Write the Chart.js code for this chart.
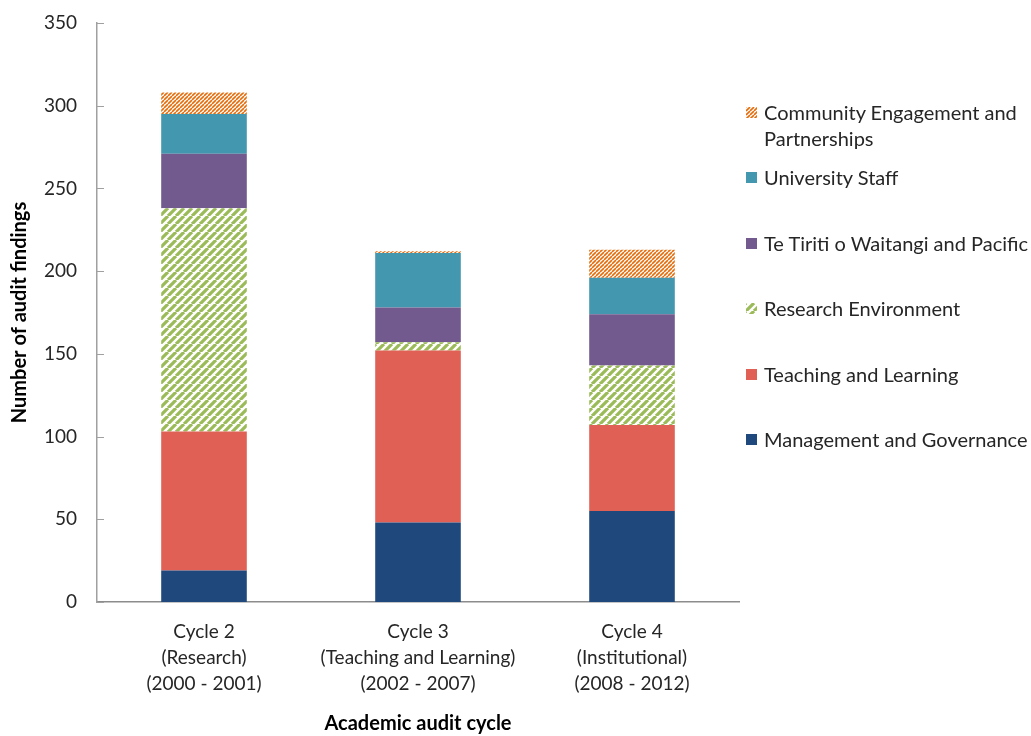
<!DOCTYPE html>
<html>
<head>
<meta charset="utf-8">
<title>Academic audit findings by cycle</title>
<script src="https://cdn.jsdelivr.net/npm/chart.js@4.4.0/dist/chart.umd.min.js"></script>
<style>
  body { margin: 0; background: #fff; }
  #wrap { position: relative; width: 1031px; height: 736px; }
  #legend { position: absolute; left: 746px; top: 0; width: 285px; font-family: Lato, sans-serif; font-size: 20px; color: #262626; }
  .item { position: absolute; left: 0; display: flex; align-items: flex-start; }
  .item canvas { margin-top: 8px; margin-right: 7px; flex: none; }
  .item span { line-height: 26px; width: 266px; }
</style>
</head>
<body>
<div id="wrap">
  <canvas id="myChart" width="1031" height="736"></canvas>
  <div id="legend"></div>
</div>
<script>
// audit cycles on the x axis (multi-line labels)
const cycles = [
  ['Cycle 2', '(Research)', '(2000 - 2001)'],
  ['Cycle 3', '(Teaching and Learning)', '(2002 - 2007)'],
  ['Cycle 4', '(Institutional)', '(2008 - 2012)']
]

// findings per theme, one value per cycle
const management = [19, 48, 55]
const teaching   = [84, 104, 52]
const research   = [135, 5, 36]
const teTiriti   = [33, 21, 31]
const staff      = [24, 33, 22]
const community  = [13, 1, 17]

const yMax = 350
const yStep = 50

const axisGray = '#a0a0a0'
const textColor = '#262626'

// diagonal "///" hatch fill
function hatch(color, size, lineW) {
  const c = document.createElement('canvas')
  c.width = size
  c.height = size
  const g = c.getContext('2d')
  g.fillStyle = '#fff'
  g.fillRect(0, 0, size, size)
  g.strokeStyle = color
  g.lineWidth = lineW
  g.beginPath()
  for (let k = -1; k <= 1; k++) {
    g.moveTo(k * size, size)
    g.lineTo(k * size + size, 0)
  }
  g.stroke()
  return g.createPattern(c, 'repeat')
}

const ctx = document.getElementById('myChart').getContext('2d')

const datasets = [
  { label: 'Management and Governance', data: management, backgroundColor: '#1f497d' },
  { label: 'Teaching and Learning', data: teaching, backgroundColor: '#e06055' },
  { label: 'Research Environment', data: research, backgroundColor: hatch('#9bbb59', 8, 3.2) },
  { label: 'Te Tiriti o Waitangi and Pacific', data: teTiriti, backgroundColor: '#725a8e' },
  { label: 'University Staff', data: staff, backgroundColor: '#4397af' },
  { label: 'Community Engagement and Partnerships', data: community, backgroundColor: hatch('#e46c0a', 4, 1.6) }
]

// small tick marks pointing into the plot from the y axis
const innerTicks = {
  id: 'innerTicks',
  beforeDatasetsDraw(chart) {
    const y = chart.scales.y
    const c = chart.ctx
    c.save()
    c.strokeStyle = axisGray
    c.lineWidth = 1
    y.ticks.forEach(t => {
      const py = Math.round(y.getPixelForValue(t.value)) + 0.5
      c.beginPath()
      c.moveTo(y.right, py)
      c.lineTo(y.right + 7, py)
      c.stroke()
    })
    c.restore()
  }
}

Chart.defaults.font.family = 'Lato, sans-serif'
Chart.defaults.color = textColor

const myChart = new Chart(ctx, {
  type: 'bar',
  data: { labels: cycles, datasets },
  options: {
    responsive: false,
    animation: false,
    layout: { padding: { top: 23, right: 292, left: 0, bottom: 0 } },
    plugins: { legend: { display: false }, tooltip: { enabled: false } },
    datasets: { bar: { categoryPercentage: 0.4, barPercentage: 1, borderWidth: 0 } },
    scales: {
      x: {
        stacked: true,
        grid: { display: false },
        border: { color: '#8c8c8c', width: 1.5 },
        ticks: { font: { size: 19, lineHeight: 1.37 }, padding: 9, maxRotation: 0 },
        title: { display: true, text: 'Academic audit cycle', font: { size: 20, weight: 'bold' }, color: '#000', padding: { top: 0, bottom: 0 } },
        afterFit: s => { s.height = 134 }
      },
      y: {
        stacked: true,
        min: 0,
        max: yMax,
        grid: { display: false },
        border: { color: axisGray, width: 1.5 },
        ticks: { stepSize: yStep, font: { size: 19 }, padding: 12 },
        title: { display: true, text: 'Number of audit findings', font: { size: 20, weight: 'bold' }, color: '#000', padding: { top: 8, bottom: 0 } },
        afterFit: s => {
          s.width = 97
          // let the layout padding alone decide the plot top
          s.paddingTop = 0
          s.paddingBottom = 0
        }
      }
    }
  },
  plugins: [innerTicks]
})

// legend, top item = top of the stack
const legendEl = document.getElementById('legend')
myChart.data.datasets.slice().reverse().forEach((ds, i) => {
  const item = document.createElement('div')
  item.className = 'item'
  item.style.top = (99 + i * 65.4) + 'px'
  const sw = document.createElement('canvas')
  sw.width = 11
  sw.height = 11
  const g = sw.getContext('2d')
  g.fillStyle = ds.backgroundColor
  g.fillRect(0, 0, 11, 11)
  const txt = document.createElement('span')
  txt.textContent = ds.label
  item.append(sw, txt)
  legendEl.append(item)
})
</script>
</body>
</html>
